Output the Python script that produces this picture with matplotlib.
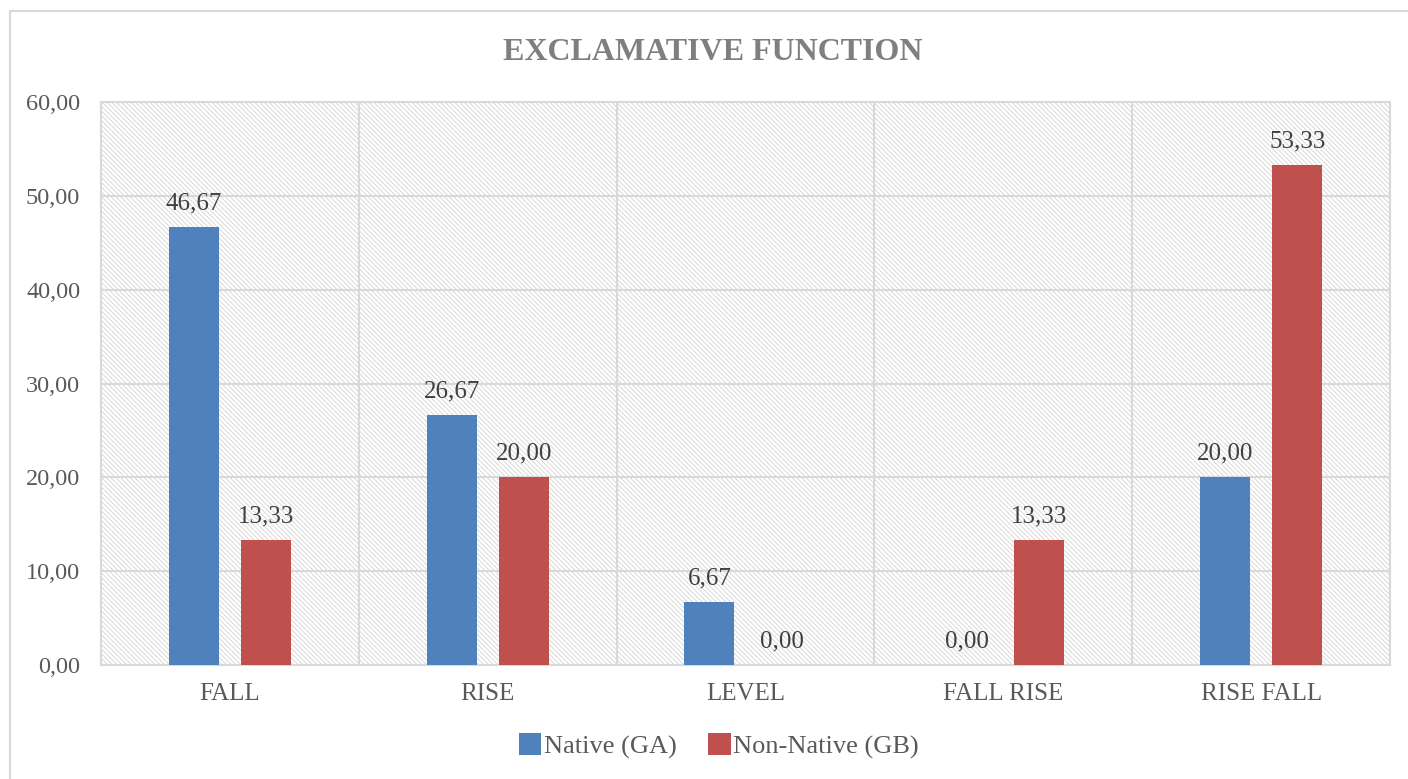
import matplotlib
matplotlib.use('Agg')
import matplotlib.pyplot as plt
from matplotlib.patches import Rectangle
import numpy as np

categories = ['FALL', 'RISE', 'LEVEL', 'FALL RISE', 'RISE FALL']
native = [46.67, 26.67, 6.67, 0.00, 20.00]
non_native = [13.33, 20.00, 0.00, 13.33, 53.33]
series_names = ['Native (GA)', 'Non-Native (GB)']
yticks = [0, 10, 20, 30, 40, 50, 60]

blue = '#4F81BD'
red = '#C0504D'
grid_col = '#D9D9D9'

plt.rcParams['font.family'] = ['Liberation Serif', 'DejaVu Serif']
plt.rcParams['hatch.linewidth'] = 0.6
plt.rcParams['hatch.color'] = '#D3D3D3'

fig = plt.figure(figsize=(14.08, 7.79), dpi=100)
ax = fig.add_axes([101/1408, 1 - 665/779, 1289/1408, 563/779])

# frame around the whole chart (only left/top visible in the original)
fig.patches.append(Rectangle((10/1408, -0.1), 1.2, 1 - 11/779 + 0.1,
                             transform=fig.transFigure, fill=False,
                             edgecolor=grid_col, linewidth=1.5))

# hatched plot area
ax.add_patch(Rectangle((0, 0), 1, 1, transform=ax.transAxes, facecolor='white',
                       edgecolor='#D3D3D3', hatch='\\' * 7, linewidth=0, zorder=0))

x = np.arange(len(categories))
w = 0.194
off = 0.14
b1 = ax.bar(x - off, native, w, color=blue, label=series_names[0], zorder=3)
b2 = ax.bar(x + off, non_native, w, color=red, label=series_names[1], zorder=3)

for bars, vals in ((b1, native), (b2, non_native)):
    for r, v in zip(bars, vals):
        ax.annotate(f'{v:.2f}'.replace('.', ','),
                    (r.get_x() + r.get_width() / 2, v),
                    xytext=(0, 9), textcoords='offset points',
                    ha='center', va='bottom', fontsize=18, color='#404040')

ax.set_xlim(-0.5, len(categories) - 0.5)
ax.set_ylim(0, 60)
ax.set_yticks(yticks)
ax.set_yticklabels([f'{t:.2f}'.replace('.', ',') for t in yticks])
ax.set_xticks(x)
ax.set_xticklabels(categories)
ax.tick_params(length=0, labelsize=18, labelcolor='#595959')
ax.tick_params(axis='y', labelsize=17.5, pad=15)
ax.tick_params(axis='x', pad=13)

for t in yticks[1:-1]:
    ax.axhline(t, color=grid_col, linewidth=1.5, zorder=1)
for b in x[:-1] + 0.5:
    ax.axvline(b, color=grid_col, linewidth=1.5, zorder=1)
for s in ax.spines.values():
    s.set_color(grid_col)
    s.set_linewidth(1.5)

fig.text(713/1408, 1 - 52/779, 'EXCLAMATIVE FUNCTION', ha='center', va='center',
         fontsize=23, fontweight='bold', color='#7F7F7F')

fig.legend(loc='center', bbox_to_anchor=(719/1408, 1 - 746/779), ncol=2, frameon=False,
           fontsize=19, handlelength=0.85, handleheight=0.85, handletextpad=0.1,
           columnspacing=1.2, labelcolor='#595959')

fig.savefig('out.png', dpi=100)
